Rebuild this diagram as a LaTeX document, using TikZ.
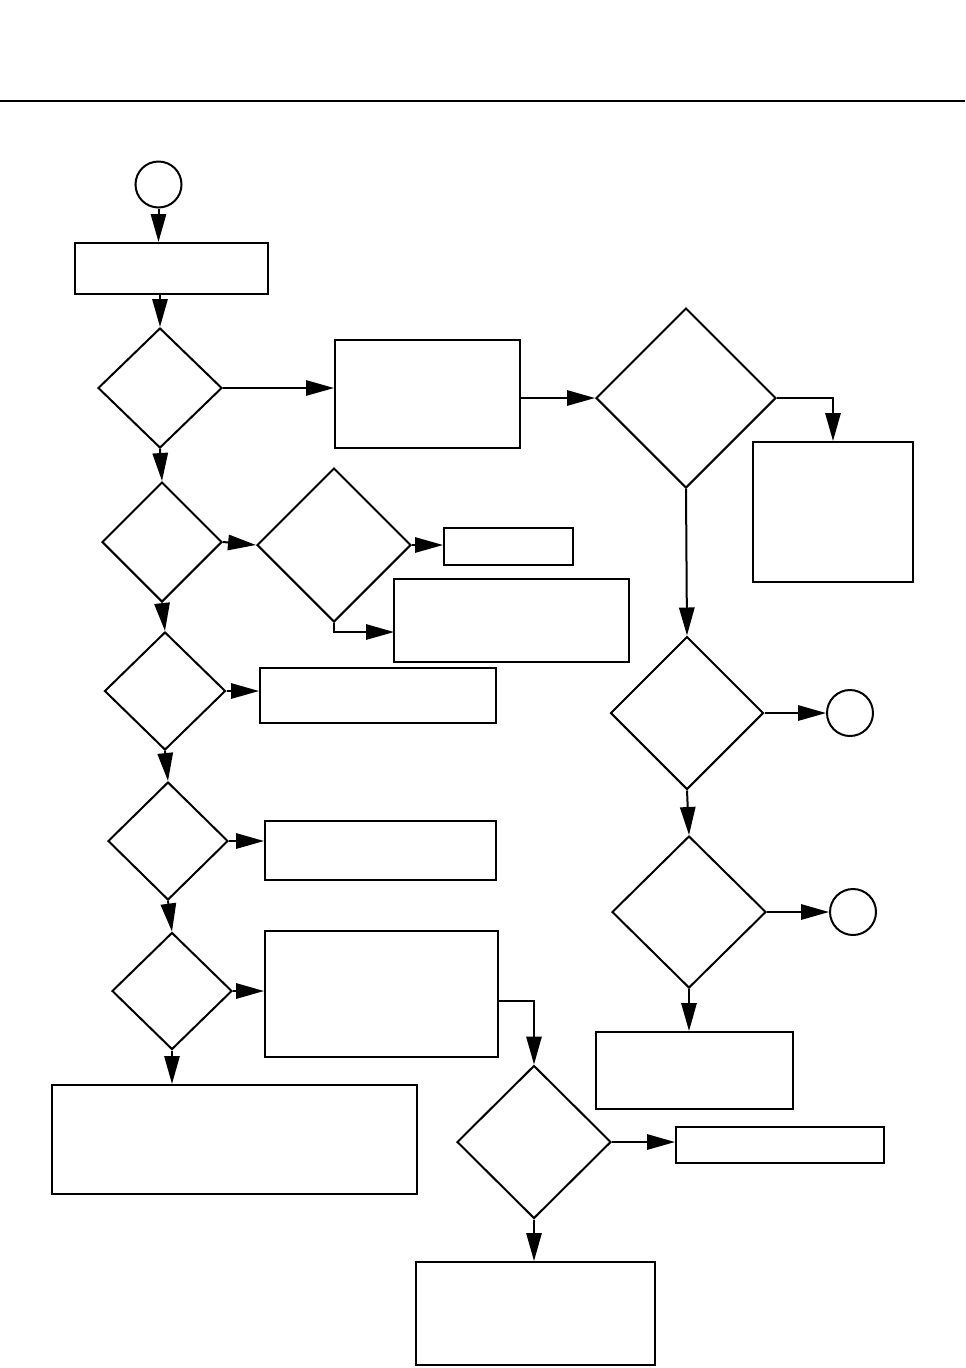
\documentclass[tikz,border=0pt]{standalone}
\usetikzlibrary{shapes.geometric,arrows.meta}

\tikzset{every picture/.style={line width=1.5pt}}
\tikzset{
  box/.style={draw, rectangle, inner sep=0pt},
  decision/.style={draw, diamond, inner sep=0pt},
  joint/.style={draw, circle, inner sep=0pt, minimum size=34.5pt},
  flow/.style={-{Triangle[length=21pt,width=11.5pt]}}
}

\begin{document}
\begin{tikzpicture}[x=0.75pt,y=0.75pt,yscale=-1,xscale=1]
\useasboundingbox (0,0) rectangle (965,1368);

%Shape: Line [top rule]
\draw (0,101) -- (965,101);

%Shape: Circle [start]
\node [joint] (start) at (158.5,184.5) {};
%Shape: Rectangle
\node [box, minimum width=144.75pt, minimum height=38.25pt] (init) at (171.5,268.5) {};

%Shape: Diamond [left column]
\node [decision, minimum width=93pt, minimum height=90pt] (dA) at (160,388) {};
\node [decision, minimum width=90pt, minimum height=90pt] (dB) at (162,542) {};
\node [decision, minimum width=90.75pt, minimum height=88.5pt] (dC) at (165,691) {};
\node [decision, minimum width=90pt, minimum height=88.5pt] (dD) at (168,841) {};
\node [decision, minimum width=90pt, minimum height=87.75pt] (dE) at (172,991) {};
\node [decision, minimum width=115.5pt, minimum height=115.5pt] (dF) at (334,545) {};

%Shape: Rectangle [middle]
\node [box, minimum width=138.75pt, minimum height=81pt] (stepA) at (427.5,394) {};
\node [box, minimum width=96.75pt, minimum height=27.75pt] (stepB) at (508.5,546.5) {};
\node [box, minimum width=176.25pt, minimum height=62.25pt] (stepC) at (511.5,620.5) {};
\coordinate (stepCin) at (394,632);
\node [box, minimum width=177pt, minimum height=41.25pt] (stepD) at (378,695.5) {};
\node [box, minimum width=173.25pt, minimum height=44.25pt] (stepE) at (380.5,850.5) {};
\node [box, minimum width=174.75pt, minimum height=94.5pt] (stepF) at (381.5,994) {};
\node [box, minimum width=273.75pt, minimum height=81.75pt] (stepG) at (234.5,1139.5) {};

%Shape: Diamond [lower middle]
\node [decision, minimum width=115.5pt, minimum height=114.75pt] (dG) at (534,1142) {};
\node [box, minimum width=156pt, minimum height=27pt] (stepH) at (780,1145) {};
\node [box, minimum width=179.25pt, minimum height=77.25pt] (stepI) at (535.5,1313.5) {};

%Shape: Diamond [right column]
\node [decision, minimum width=135pt, minimum height=135pt] (dH) at (686,398) {};
\node [box, minimum width=120pt, minimum height=105pt] (stepJ) at (833,512) {};
\node [decision, minimum width=114.75pt, minimum height=114.75pt] (dI) at (687,713) {};
\node [joint] (endA) at (850,713) {};
\node [decision, minimum width=115.5pt, minimum height=114pt] (dJ) at (689,912) {};
\node [joint] (endB) at (853,912) {};
\node [box, minimum width=147.75pt, minimum height=57.75pt] (stepK) at (694.5,1070.5) {};

% Connectors
\draw [flow] (start.south) -- (start.south |- init.north);
\draw [flow] (dA.north |- init.south) -- (dA.north);
\draw [flow] (dA.east) -- (dA.east -| stepA.west);
\draw [flow] (stepA.east |- dH.west) -- (dH.west);
\draw [flow] (dH.east) -| (stepJ.north);
\draw [flow] (dH.south) -- (dI.north);
\draw [flow] (dI.east) -- (endA.west);
\draw [flow] (dI.south) -- (dJ.north);
\draw [flow] (dJ.east) -- (endB.west);
\draw [flow] (dJ.south) -- (dJ.south |- stepK.north);
\draw [flow] (dA.south) -- (dB.north);
\draw [flow] (dB.east) -- (dF.west);
\draw [flow] (dF.east) -- (dF.east -| stepB.west);
\draw [flow] (dF.south) |- (stepCin);
\draw [flow] (dB.south) -- (dC.north);
\draw [flow] (dC.east) -- (dC.east -| stepD.west);
\draw [flow] (dC.south) -- (dD.north);
\draw [flow] (dD.east) -- (dD.east -| stepE.west);
\draw [flow] (dD.south) -- (dE.north);
\draw [flow] (dE.east) -- (dE.east -| stepF.west);
\draw [flow] (dE.south) -- (dE.south |- stepG.north);
\draw [flow] ([yshift=5pt]stepF.east) -| (dG.north);
\draw [flow] (dG.east) -- (dG.east -| stepH.west);
\draw [flow] (dG.south) -- (dG.south |- stepI.north);

\end{tikzpicture}
\end{document}
